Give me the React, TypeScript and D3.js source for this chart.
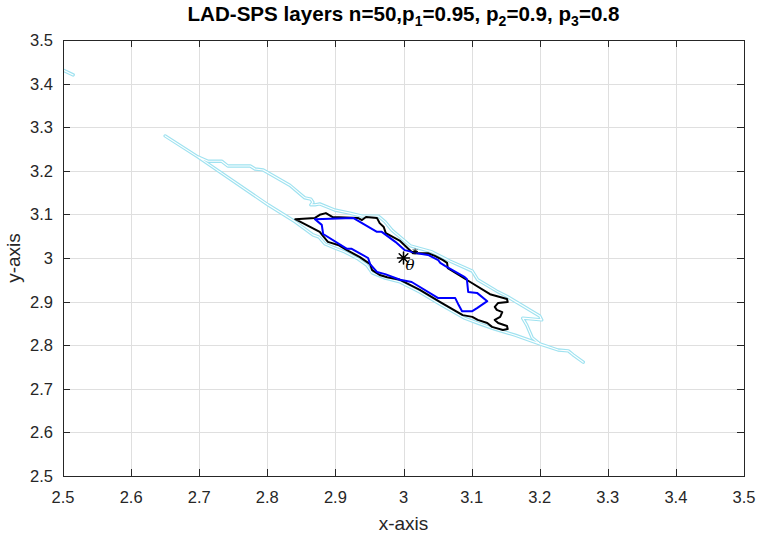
import React from "react";
import * as d3 from "d3";

type Pt = [number, number];

// tick values, both axes
const xTicks = [2.5, 2.6, 2.7, 2.8, 2.9, 3.0, 3.1, 3.2, 3.3, 3.4, 3.5];
const yTicks = [2.5, 2.6, 2.7, 2.8, 2.9, 3.0, 3.1, 3.2, 3.3, 3.4, 3.5];

// outer layer (p3), cyan
const cyanLayer: Pt[] = [
  [2.65, 3.28], [2.698, 3.232], [2.713, 3.222], [2.733, 3.222], [2.742, 3.211],
  [2.775, 3.211], [2.782, 3.204], [2.794, 3.202], [2.833, 3.167], [2.855, 3.138],
  [2.864, 3.135], [2.867, 3.128], [2.864, 3.122], [2.87, 3.122], [2.877, 3.124],
  [2.899, 3.11], [2.921, 3.103], [2.939, 3.096], [2.963, 3.096], [2.973, 3.083],
  [2.983, 3.064], [3.01, 3.028], [3.042, 3.014], [3.068, 2.993], [3.101, 2.97],
  [3.109, 2.95], [3.137, 2.924], [3.153, 2.911], [3.2, 2.867], [3.203, 2.858],
  [3.175, 2.862], [3.181, 2.846], [3.189, 2.817], [3.2, 2.803], [3.227, 2.789],
  [3.242, 2.787], [3.249, 2.778], [3.264, 2.761],
  [3.249, 2.778], [3.242, 2.787], [3.227, 2.789], [3.2, 2.803],
  [3.164, 2.823], [3.134, 2.837], [3.112, 2.849], [3.09, 2.862], [3.054, 2.894],
  [3.024, 2.922], [2.995, 2.945], [2.973, 2.954], [2.954, 2.966], [2.946, 2.984],
  [2.933, 2.998], [2.914, 3.014], [2.899, 3.023], [2.885, 3.032], [2.876, 3.048],
  [2.867, 3.053], [2.841, 3.083], [2.801, 3.122], [2.698, 3.232], [2.65, 3.28],
];
const cyanSliver: Pt[] = [[2.5, 3.431], [2.515, 3.42]];

// middle layer (p2), black
const blackLayer: Pt[] = [
  [2.841, 3.089], [2.87, 3.092], [2.877, 3.099], [2.886, 3.103], [2.896, 3.094],
  [2.933, 3.092], [2.939, 3.087], [2.945, 3.094], [2.961, 3.092], [2.965, 3.08],
  [2.971, 3.071], [2.974, 3.057], [2.995, 3.039], [3.014, 3.011], [3.036, 3.011],
  [3.046, 3.005], [3.058, 2.995], [3.064, 2.989], [3.065, 2.977], [3.098, 2.945],
  [3.127, 2.917], [3.152, 2.906], [3.153, 2.899], [3.139, 2.897], [3.134, 2.888],
  [3.137, 2.881], [3.145, 2.876], [3.142, 2.865], [3.134, 2.858], [3.139, 2.851],
  [3.152, 2.844], [3.153, 2.837], [3.146, 2.835], [3.13, 2.842], [3.123, 2.851],
  [3.109, 2.858], [3.101, 2.865], [3.087, 2.869], [3.054, 2.899], [3.024, 2.927],
  [2.995, 2.95], [2.976, 2.956], [2.965, 2.961], [2.954, 2.972], [2.951, 2.986],
  [2.936, 3.002], [2.917, 3.018], [2.904, 3.03], [2.889, 3.037], [2.882, 3.05],
  [2.877, 3.06],
];

// inner layer (p1), blue
const blueLayer: Pt[] = [
  [2.87, 3.089], [2.926, 3.092], [2.961, 3.06], [2.968, 3.06], [2.988, 3.037],
  [3.002, 3.018], [3.012, 3.014], [3.02, 3.011], [3.036, 3.007], [3.051, 2.995],
  [3.054, 2.989], [3.061, 2.982], [3.09, 2.956], [3.093, 2.952], [3.095, 2.922],
  [3.108, 2.92], [3.123, 2.901], [3.108, 2.885], [3.101, 2.878], [3.086, 2.878],
  [3.081, 2.892], [3.076, 2.908], [3.051, 2.908], [3.012, 2.945], [2.995, 2.95],
  [2.973, 2.963], [2.961, 2.968], [2.951, 2.986], [2.948, 3.0], [2.924, 3.021],
  [2.917, 3.021], [2.882, 3.055], [2.88, 3.076],
];

const theta: Pt = [3.0, 3.0];
const thetaHat: Pt = [3.017, 3.015];

const W = 761;
const H = 539;
const left = 63, top = 40, right = 744, bottom = 476;
const font = "'Liberation Sans', Arial, Helvetica, sans-serif";

function starPath(cx: number, cy: number, r: number) {
  const d = r * 0.72;
  return `M${cx - r},${cy}H${cx + r}M${cx},${cy - r}V${cy + r}` +
    `M${cx - d},${cy - d}L${cx + d},${cy + d}M${cx - d},${cy + d}L${cx + d},${cy - d}`;
}

export default function App() {
  const x = d3.scaleLinear().domain([2.5, 3.5]).range([left, right]);
  const y = d3.scaleLinear().domain([2.5, 3.5]).range([bottom, top]);
  const line = d3.line<Pt>().x(d => x(d[0])).y(d => y(d[1]));
  const closed = d3.line<Pt>().x(d => x(d[0])).y(d => y(d[1])).curve(d3.curveLinearClosed);
  const fmt = (v: number) => (Math.abs(v - 3) < 1e-9 ? "3" : d3.format(".1f")(v));
  const tk = 7;

  return (
    <svg width={W} height={H} style={{ position: "absolute", left: 0, top: 0, background: "#fff" }}
      fontFamily={font}>
      <defs>
        <clipPath id="plot">
          <rect x={left} y={top} width={right - left} height={bottom - top} />
        </clipPath>
      </defs>
      <rect x={0} y={0} width={W} height={H} fill="#fff" />
      {/* grid */}
      <g stroke="#dfdfdf" strokeWidth={1}>
        {xTicks.map(t => (
          <line key={"gx" + t} x1={Math.round(x(t)) + 0.5} x2={Math.round(x(t)) + 0.5} y1={top} y2={bottom} />
        ))}
        {yTicks.map(t => (
          <line key={"gy" + t} y1={Math.round(y(t)) + 0.5} y2={Math.round(y(t)) + 0.5} x1={left} x2={right} />
        ))}
      </g>
      <g clipPath="url(#plot)" fill="none" strokeLinejoin="round" strokeLinecap="round">
        <path d={closed(cyanLayer) || ""} stroke="#9fe2f0" strokeWidth={3.4} />
        <path d={line(cyanSliver) || ""} stroke="#9fe2f0" strokeWidth={3.4} />
        <path d={closed(cyanLayer) || ""} stroke="#ffffff" strokeWidth={1.1} />
        <path d={line(cyanSliver) || ""} stroke="#ffffff" strokeWidth={1.1} />
        <path d={closed(blackLayer) || ""} stroke="#000" strokeWidth={2} />
        <path d={closed(blueLayer) || ""} stroke="#0000ff" strokeWidth={2} />
        <path d={starPath(x(theta[0]), y(theta[1]), 6)} stroke="#000" strokeWidth={1.5} />
        <path d={starPath(x(thetaHat[0]), y(thetaHat[1]), 2.5)} stroke="#000" strokeWidth={1} />
        <text x={x(theta[0]) + 2} y={y(theta[1]) + 12} fontFamily="'DejaVu Serif', serif"
          fontStyle="italic" fontSize={15} fill="#000" stroke="none">θ</text>
      </g>
      {/* axes box and ticks */}
      <g stroke="#262626" strokeWidth={1} fill="none">
        <rect x={left + 0.5} y={top + 0.5} width={right - left} height={bottom - top} />
        {xTicks.map(t => {
          const px = Math.round(x(t)) + 0.5;
          return (
            <g key={"tx" + t}>
              <line x1={px} x2={px} y1={bottom} y2={bottom - tk} />
              <line x1={px} x2={px} y1={top} y2={top + tk} />
            </g>
          );
        })}
        {yTicks.map(t => {
          const py = Math.round(y(t)) + 0.5;
          return (
            <g key={"ty" + t}>
              <line x1={left} x2={left + tk} y1={py} y2={py} />
              <line x1={right} x2={right - tk} y1={py} y2={py} />
            </g>
          );
        })}
      </g>
      <g fill="#262626" fontSize={16.5}>
        {xTicks.map(t => (
          <text key={"lx" + t} x={x(t)} y={503} textAnchor="middle">{fmt(t)}</text>
        ))}
        {yTicks.map(t => (
          <text key={"ly" + t} x={53} y={y(t) + 6} textAnchor="end">{fmt(t)}</text>
        ))}
        <text x={(left + right) / 2} y={530} textAnchor="middle" fontSize={19}>x-axis</text>
        <text transform={`translate(20,${(top + bottom) / 2}) rotate(-90)`} textAnchor="middle" fontSize={19}>y-axis</text>
      </g>
      <text x={(left + right) / 2} y={21} textAnchor="middle" fontWeight="bold" fontSize={20.6} fill="#000">
        {"LAD-SPS layers n=50,p"}
        <tspan fontSize={14} dy={5}>1</tspan>
        <tspan dy={-5}>{"=0.95, p"}</tspan>
        <tspan fontSize={14} dy={5}>2</tspan>
        <tspan dy={-5}>{"=0.9, p"}</tspan>
        <tspan fontSize={14} dy={5}>3</tspan>
        <tspan dy={-5}>{"=0.8"}</tspan>
      </text>
    </svg>
  );
}
